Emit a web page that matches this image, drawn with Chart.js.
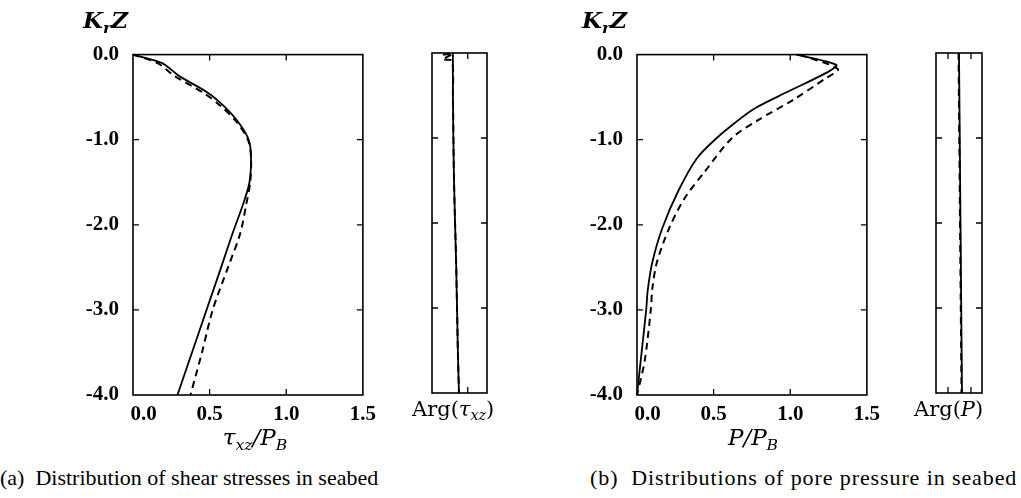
<!DOCTYPE html>
<html>
<head>
<meta charset="utf-8">
<script src="https://cdn.jsdelivr.net/npm/chart.js@4.4.1/dist/chart.umd.min.js"></script>
<style>
  body{margin:0;width:1021px;height:498px;background:#fff;position:relative;overflow:hidden;font-family:"Liberation Serif",serif;color:#000}
  canvas{position:absolute}
  .t{position:absolute;white-space:nowrap;line-height:1}
  .t sub{font-size:0.68em;vertical-align:-0.3em;line-height:0}
  .kz{font-family:"DejaVu Serif",serif;font-size:23px;font-weight:bold;font-style:italic}
  .ttl{font-family:"DejaVu Serif",serif;font-size:23px;font-style:italic;transform:translateX(-50%)}
  .arg{font-family:"DejaVu Serif",serif;font-size:21px}
  .cap{font-size:22px}
</style>
</head>
<body>
<canvas id="shearChart" width="310" height="397" style="left:73px;top:28px"></canvas>
<canvas id="shearArg" width="75" height="360" style="left:422px;top:43px"></canvas>
<canvas id="poreChart" width="310" height="397" style="left:577px;top:28px"></canvas>
<canvas id="poreArg" width="66" height="360" style="left:926px;top:43px"></canvas>

<div class="t kz" style="left:83px;top:8px">K<sub>r</sub>Z</div>
<div class="t kz" style="left:582px;top:8px">K<sub>r</sub>Z</div>
<div class="t ttl" style="left:255px;top:426px">τ<sub>xz</sub>/P<sub>B</sub></div>
<div class="t ttl" style="left:753px;top:426px">P/P<sub>B</sub></div>
<div class="t arg" style="left:412px;top:399px">Arg(<i>τ<sub>xz</sub></i>)</div>
<div class="t arg" style="left:914px;top:399px">Arg(<i>P</i>)</div>
<div class="t cap" style="left:0px;top:467px">(a)&nbsp; Distribution of shear stresses in seabed</div>
<div class="t cap" style="left:590px;top:467px;letter-spacing:0.9px">(b)&nbsp; Distributions of pore pressure in seabed</div>

<script>
// depth axis K_r Z (0 at seabed surface, negative downwards)
const shearDepth = [0, -0.1, -0.25, -0.45, -0.6, -0.8, -1.0, -1.2, -1.5, -1.75, -2.1, -2.5, -3.0, -3.5, -4.0];
const shearSolid = [0, 0.19, 0.30, 0.49, 0.59, 0.69, 0.755, 0.77, 0.76, 0.72, 0.65, 0.575, 0.48, 0.385, 0.29];
const shearDashed = [0, 0.16, 0.27, 0.46, 0.57, 0.68, 0.75, 0.77, 0.765, 0.74, 0.70, 0.62, 0.52, 0.45, 0.375];

const argShearSolidDepth = [0, -0.5, -1.5, -2.5, -3.5, -4.0];
const argShearSolid = [0.38, 0.38, 0.40, 0.44, 0.47, 0.49];
const argShearDashedDepth = [-0.02, -0.01, -0.08, -0.09, -0.5, -1.5, -2.5, -3.5, -4.0];
const argShearDashed = [0.20, 0.38, 0.19, 0.36, 0.38, 0.40, 0.44, 0.47, 0.49];

const poreSolidDepth = [0, -0.12, -0.2, -0.44, -0.63, -0.8, -0.98, -1.22, -1.6, -2.04, -2.44, -2.77, -3.0, -3.5, -4.0];
const poreSolid = [1.04, 1.30, 1.25, 0.98, 0.77, 0.64, 0.52, 0.39, 0.27, 0.165, 0.10, 0.07, 0.06, 0.03, 0.0];
const poreDashedDepth = [0, -0.17, -0.28, -0.53, -0.77, -0.98, -1.38, -1.69, -2.04, -2.44, -2.75, -3.0, -3.6, -4.0];
const poreDashed = [1.06, 1.31, 1.23, 1.02, 0.79, 0.62, 0.44, 0.31, 0.21, 0.13, 0.10, 0.09, 0.05, 0.0];

const argPoreDepth = [0, -4.0];
const argPoreSolid = [0.50, 0.565];
const argPoreDashed = [0.49, 0.555];

const xTickLabels = [0, 0.5, 1.0, 1.5];
const depthTicks = [-1, -2, -3];

const pts = (vals, depth) => vals.map((v, i) => ({ x: v, y: depth[i] }));

// box round the plot area plus the short inward ticks on all four sides
const frame = {
  id: "frame",
  afterDatasetsDraw(chart, args, opts){
    const { ctx, chartArea: a, scales } = chart;
    ctx.save();
    ctx.strokeStyle = "#000";
    ctx.lineWidth = 1.6;
    ctx.strokeRect(a.left, a.top, a.right - a.left, a.bottom - a.top);
    ctx.lineWidth = 1.3;
    ctx.beginPath();
    (opts.xTicks || []).forEach(v => {
      const px = scales.x.getPixelForValue(v);
      ctx.moveTo(px, a.top); ctx.lineTo(px, a.top + 6);
      ctx.moveTo(px, a.bottom); ctx.lineTo(px, a.bottom - 6);
    });
    (opts.yTicks || []).forEach(v => {
      const py = scales.y.getPixelForValue(v);
      ctx.moveTo(a.left, py); ctx.lineTo(a.left + 6, py);
      ctx.moveTo(a.right, py); ctx.lineTo(a.right - 6, py);
    });
    ctx.stroke();
    ctx.restore();
  }
};

const tickFont = { family: "Liberation Serif", size: 21, weight: "bold" };

function line(data, dashed){
  return {
    data, showLine: true, pointRadius: 0, borderColor: "#000",
    borderWidth: dashed ? 2 : 1.8, borderDash: dashed ? [7, 5] : [],
    fill: false, tension: 0.3, clip: false
  };
}

function mainChart(id, solid, dashed){
  return new Chart(document.getElementById(id), {
    type: "scatter",
    data: { datasets: [line(solid, false), line(dashed, true)] },
    options: {
      responsive: false, animation: false, devicePixelRatio: 1,
      layout: { padding: { top: 10, right: 10, left: 0, bottom: 0 } },
      plugins: { legend: { display: false }, tooltip: { enabled: false },
        frame: { xTicks: [0.5, 1.0], yTicks: depthTicks } },
      scales: {
        x: {
          type: "linear", min: 0, max: 1.5,
          afterBuildTicks: s => { s.ticks = xTickLabels.map(v => ({ value: v })); },
          afterFit: s => { s.height = 30; },
          grid: { display: false, drawTicks: false }, border: { display: false },
          ticks: { color: "#000", font: tickFont, padding: 7, maxRotation: 0,
            callback: v => v === 0 ? "\u2007\u20070.0" : v.toFixed(1) }
        },
        y: {
          type: "linear", min: -4, max: 0,
          ticks: { stepSize: 1, color: "#000", font: tickFont, padding: 14, callback: v => v.toFixed(1) },
          afterFit: s => { s.width = 60; },
          grid: { display: false, drawTicks: false }, border: { display: false }
        }
      }
    },
    plugins: [frame]
  });
}

function argChart(id, solid, dashed, xTicks){
  return new Chart(document.getElementById(id), {
    type: "scatter",
    data: { datasets: [line(solid, false), line(dashed, true)] },
    options: {
      responsive: false, animation: false, devicePixelRatio: 1,
      layout: { padding: 10 },
      plugins: { legend: { display: false }, tooltip: { enabled: false },
        frame: { xTicks, yTicks: depthTicks } },
      scales: {
        x: { type: "linear", min: 0, max: 1, display: false },
        y: { type: "linear", min: -4, max: 0, display: false }
      }
    },
    plugins: [frame]
  });
}

mainChart("shearChart", pts(shearSolid, shearDepth), pts(shearDashed, shearDepth));
argChart("shearArg", pts(argShearSolid, argShearSolidDepth), pts(argShearDashed, argShearDashedDepth), [0.65]);
mainChart("poreChart", pts(poreSolid, poreSolidDepth), pts(poreDashed, poreDashedDepth));
argChart("poreArg", pts(argPoreSolid, argPoreDepth), pts(argPoreDashed, argPoreDepth), [0.26, 0.76]);
</script>
</body>
</html>
